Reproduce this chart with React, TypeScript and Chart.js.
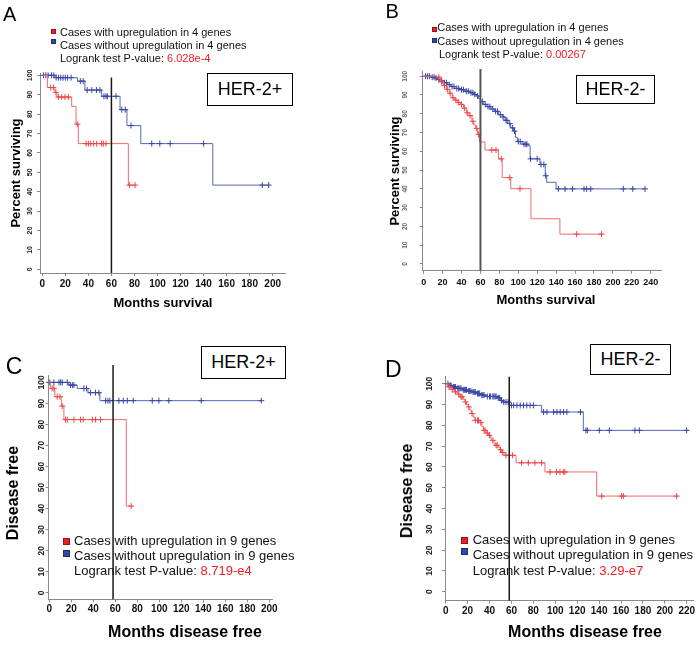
import React, { useEffect, useRef } from "react";
import { Chart, registerables } from "chart.js";

Chart.register(...registerables);

type Pt = [number, number];

// ---------------- DATA ----------------
const yTicks = [0, 10, 20, 30, 40, 50, 60, 70, 80, 90, 100];

// Panel A (HER-2+, overall survival)
const A_xTicks = [0, 20, 40, 60, 80, 100, 120, 140, 160, 180, 200];
const A_withSteps: Pt[] = [[0, 100], [4.4, 93.7], [11, 91.2], [12.6, 88.8], [25.5, 84], [29.3, 74.8], [31.3, 64.8], [74.7, 43.4], [81, 43.4]];
const A_withCensor = [7.3, 9.6, 11.8, 14, 16.8, 19.7, 22.6, 30.4, 38, 40, 42, 44.3, 47.2, 51.5, 53, 55.3, 75.6, 80.5];
const A_withoutSteps: Pt[] = [[0, 100], [11, 98.8], [30.5, 97], [37, 92.4], [51.5, 89.2], [67.5, 82.3], [73.5, 74.1], [85.5, 64.8], [148, 43.4], [197, 43.4]];
const A_withoutCensor = [1, 3, 5, 8, 10, 12, 14, 16, 18, 20, 22, 25, 33, 35.5, 39, 43, 47, 50, 53.5, 55.3, 56.5, 64, 69, 72, 77, 95, 102, 111, 140, 191, 196.5];
const A_cutoff = 60;

// Panel B (HER-2-, overall survival)
const B_xTicks = [0, 20, 40, 60, 80, 100, 120, 140, 160, 180, 200, 220, 240];
const B_withSteps: Pt[] = [[0, 100], [14, 99.5], [18, 97], [21, 95], [24, 93], [27, 90.9], [30, 88.5], [33, 87.3], [36, 86], [39, 85], [42, 83], [45, 80.5], [48, 79], [51, 76], [53, 74], [55, 72.2], [57, 69], [59, 65], [64.8, 60.7], [79, 56], [83, 46], [92, 40.1], [113.4, 24.1], [144, 15.9], [189, 15.9]];
const B_withCensor = [16, 19, 22, 25, 28, 31, 34, 37, 40, 43, 46, 49, 52, 56, 58, 72, 76.4, 82, 91, 101.8, 161.7, 188];
const B_withoutSteps: Pt[] = [[0, 100], [8, 99.5], [12, 99], [15, 98.2], [18, 97.5], [21, 96.5], [25, 95.5], [29, 94.5], [33, 93.5], [38, 92.8], [43, 92], [48, 91.2], [53, 90.3], [56, 89.5], [58, 88], [60, 86.5], [63, 85], [67, 83.8], [71, 82.5], [75, 81.3], [79, 79.5], [83, 78.3], [86, 76.5], [89, 74.8], [92, 72.5], [95, 70.8], [97, 67.5], [99, 65.2], [104, 63.8], [110, 63], [112.5, 56], [123, 53], [128.5, 47], [130, 43.5], [140, 40], [234, 40]];
const B_withoutCensor = [2, 4, 6, 9, 11, 13, 16, 19, 22, 24, 27, 30, 32, 35, 37, 40, 42, 45, 47, 50, 52, 54, 57, 62, 65, 68, 70, 73, 76, 78, 81, 84, 87, 88, 91, 94, 96, 100, 102, 106, 108, 109, 113, 120, 124, 127, 129, 142.4, 149.4, 157.2, 169.5, 172.3, 176.6, 211, 221, 234];
const B_cutoff = 60;

// Panel C (HER-2+, disease free)
const C_xTicks = [0, 20, 40, 60, 80, 100, 120, 140, 160, 180, 200];
const C_withSteps: Pt[] = [[0, 100], [1.2, 97.1], [5.1, 93.2], [10.9, 88.7], [13.3, 82.3], [70, 41.2], [75, 41.2]];
const C_withCensor = [2.7, 4.2, 7.2, 9.7, 11.8, 14.8, 16.4, 22.4, 28.5, 30.9, 39.1, 42.1, 46.6, 74.5];
const C_withoutSteps: Pt[] = [[0, 100], [17.8, 98.7], [25.4, 97.1], [35.2, 95.1], [46, 91.3], [193, 91.3]];
const C_withoutCensor = [0.5, 4.2, 8.8, 10.3, 11.8, 16.4, 19.3, 21, 22.4, 31.5, 33.9, 37.5, 42, 45.1, 51.2, 53.3, 55.1, 63.3, 67.3, 70.9, 76.3, 93.6, 99.6, 108.7, 138.1, 192.7];
const C_cutoff = 58;

// Panel D (HER-2-, disease free)
const D_xTicks = [0, 20, 40, 60, 80, 100, 120, 140, 160, 180, 200, 220];
const D_withSteps: Pt[] = [[0, 100], [2, 98.5], [5, 97.2], [8, 96.1], [11, 95], [13, 93.7], [16, 92.5], [17.6, 91.3], [19, 90], [20.7, 88.9], [22, 87.3], [23.7, 85.7], [25, 84], [26.8, 82.4], [31.3, 81.3], [33, 79.5], [34.4, 77.6], [37, 76.3], [39, 75.2], [41, 73.8], [42, 72.8], [44, 71.5], [45.1, 70.4], [48, 69.3], [49.6, 68.3], [51, 67], [53.3, 65.6], [64.2, 62], [90.6, 57.6], [137.8, 46], [212, 46]];
const D_withCensor = [3, 6, 9, 12, 14, 15, 18, 21, 24, 27, 29, 30, 32, 35, 36, 38, 40, 43, 46, 47, 50, 52, 55, 58, 61, 69.3, 75.4, 81.4, 87.6, 95.2, 101.2, 104.3, 107.3, 108.8, 142.4, 160.6, 162.1, 210.8];
const D_withoutSteps: Pt[] = [[0, 100], [3, 99.2], [6, 98.4], [10, 97.8], [15, 97.1], [20, 96.5], [24.4, 96], [28, 95.3], [32, 94.6], [36.6, 93.9], [47, 93.2], [50, 92], [52, 91.2], [58.4, 89.6], [87.6, 86.4], [125.6, 77.6], [220, 77.6]];
const D_withoutCensor = [2, 4, 5, 7, 8, 9, 11, 12, 13, 14, 16, 17, 18, 19, 21, 22, 23, 25, 26, 27, 29, 30, 31, 33, 34, 35, 38, 40, 41, 43, 44, 45, 46, 48, 49, 51, 53, 55, 57, 60, 62, 65, 68, 71, 74, 77, 80, 89.3, 92.4, 98.5, 101.5, 104.5, 107.6, 110.6, 123, 128, 129.3, 140.2, 149.3, 172.7, 176.7, 219.9];
const D_cutoff = 58;

// ---------------- STYLE ----------------
const FONT = "'Liberation Sans', Arial, Helvetica, sans-serif";
const RED_LINE = "#f06a6a";
const RED_MARK = "#ec4646";
const BLUE_LINE = "#5a66b5";
const BLUE_MARK = "#3845a5";
const AXIS = "#8a8a8a";
const LEG_RED = "#e8202a";
const LEG_BLUE = "#3048a8";
const P_RED = "#ee1c24";

type PanelDef = {
  canvas: [number, number, number, number];
  area: { l: number; t: number; r: number; b: number };
  xMin: number; xMax: number; yMin: number; yMax: number;
  xTicks: number[];
  withSteps: Pt[]; withCensor: number[];
  withoutSteps: Pt[]; withoutCensor: number[];
  cutoff: number; cutoffTop: number; cutoffColor: string; cutoffWidth: number;
  yLabelOffset: number; yLabelSize: number; yLabelColor: string;
  xLabelOffset: number; xLabelSize: number;
  markR: number;
};

const panels: PanelDef[] = [
  {
    canvas: [0, 0, 350, 323], area: { l: 40, t: 73, r: 285, b: 273 },
    xMin: -2, xMax: 210.7, yMin: -1.9, yMax: 101.2, xTicks: A_xTicks,
    withSteps: A_withSteps, withCensor: A_withCensor, withoutSteps: A_withoutSteps, withoutCensor: A_withoutCensor,
    cutoff: A_cutoff, cutoffTop: 98.9, cutoffColor: "#1a1a1a", cutoffWidth: 1.5,
    yLabelOffset: 10, yLabelSize: 7, yLabelColor: "#222", xLabelOffset: 11, xLabelSize: 10, markR: 3,
  },
  {
    canvas: [350, 0, 350, 323], area: { l: 422.7, t: 71.7, r: 661.7, b: 270.7 },
    xMin: -1.06, xMax: 251.6, yMin: -3.57, yMax: 102.4, xTicks: B_xTicks,
    withSteps: B_withSteps, withCensor: B_withCensor, withoutSteps: B_withoutSteps, withoutCensor: B_withoutCensor,
    cutoff: B_cutoff, cutoffTop: 103.8, cutoffColor: "#555", cutoffWidth: 2,
    yLabelOffset: 17.5, yLabelSize: 6.5, yLabelColor: "#666", xLabelOffset: 12, xLabelSize: 9, markR: 3,
  },
  {
    canvas: [0, 323, 350, 323], area: { l: 48.5, t: 375, r: 272.7, b: 599.3 },
    xMin: -0.7, xMax: 203.1, yMin: -3.1, yMax: 103.5, xTicks: C_xTicks,
    withSteps: C_withSteps, withCensor: C_withCensor, withoutSteps: C_withoutSteps, withoutCensor: C_withoutCensor,
    cutoff: C_cutoff, cutoffTop: 108.2, cutoffColor: "#1a1a1a", cutoffWidth: 1.5,
    yLabelOffset: 7, yLabelSize: 8.5, yLabelColor: "#222", xLabelOffset: 9.7, xLabelSize: 10, markR: 3,
  },
  {
    canvas: [350, 323, 350, 323], area: { l: 445, t: 376.7, r: 693, b: 600.7 },
    xMin: -0.64, xMax: 225.7, yMin: -4.3, yMax: 103.4, xTicks: D_xTicks,
    withSteps: D_withSteps, withCensor: D_withCensor, withoutSteps: D_withoutSteps, withoutCensor: D_withoutCensor,
    cutoff: D_cutoff, cutoffTop: 103.4, cutoffColor: "#1a1a1a", cutoffWidth: 1.5,
    yLabelOffset: 15, yLabelSize: 8.5, yLabelColor: "#222", xLabelOffset: 10.3, xLabelSize: 10, markR: 3,
  },
];

function survivalAt(steps: Pt[], t: number): number {
  let v = steps[0][1];
  for (const [st, sv] of steps) {
    if (st <= t) v = sv;
    else break;
  }
  return v;
}

function makeLabelPlugin(p: PanelDef) {
  return {
    id: "kmTickLabels",
    afterDraw(chart: any) {
      const ctx = chart.ctx as CanvasRenderingContext2D;
      const xs = chart.scales.x;
      const ys = chart.scales.y;
      const ca = chart.chartArea;
      ctx.save();
      ctx.textAlign = "center";
      ctx.textBaseline = "middle";
      ctx.fillStyle = "#111";
      ctx.font = `bold ${p.xLabelSize}px ${FONT}`;
      for (const v of p.xTicks) {
        ctx.fillText(String(v), xs.getPixelForValue(v), ca.bottom + p.xLabelOffset);
      }
      ctx.fillStyle = p.yLabelColor;
      ctx.font = `bold ${p.yLabelSize}px ${FONT}`;
      for (const v of yTicks) {
        ctx.save();
        ctx.translate(ca.left - p.yLabelOffset, ys.getPixelForValue(v));
        ctx.rotate(-Math.PI / 2);
        ctx.fillText(String(v), 0, 0);
        ctx.restore();
      }
      ctx.restore();
    },
  };
}

function zeroFit(s: any, horizontal: boolean) {
  if (horizontal) s.height = 0;
  else s.width = 0;
  s.paddingLeft = 0;
  s.paddingRight = 0;
  s.paddingTop = 0;
  s.paddingBottom = 0;
}

function buildConfig(p: PanelDef): any {
  const [cl, ct, cw, ch] = p.canvas;
  const toXY = (arr: Pt[]) => arr.map(([x, y]) => ({ x, y }));
  const marks = (steps: Pt[], times: number[]) => times.map((t) => ({ x: t, y: survivalAt(steps, t) }));
  return {
    type: "line",
    data: {
      datasets: [
        {
          data: [{ x: p.cutoff, y: p.cutoffTop }, { x: p.cutoff, y: p.yMin }],
          borderColor: p.cutoffColor, borderWidth: p.cutoffWidth, pointRadius: 0, clip: false,
        },
        {
          data: marks(p.withSteps, p.withCensor), showLine: false, pointStyle: "cross",
          pointRadius: p.markR, pointBorderColor: RED_MARK, pointBorderWidth: 1, pointBackgroundColor: RED_MARK, clip: false,
        },
        {
          data: toXY(p.withSteps), stepped: true, borderColor: RED_LINE, borderWidth: 1, pointRadius: 0, clip: false,
        },
        {
          data: marks(p.withoutSteps, p.withoutCensor), showLine: false, pointStyle: "cross",
          pointRadius: p.markR, pointBorderColor: BLUE_MARK, pointBorderWidth: 1, pointBackgroundColor: BLUE_MARK, clip: false,
        },
        {
          data: toXY(p.withoutSteps), stepped: true, borderColor: BLUE_LINE, borderWidth: 1, pointRadius: 0, clip: false,
        },
      ],
    },
    options: {
      animation: false,
      responsive: false,
      maintainAspectRatio: false,
      events: [],
      layout: {
        padding: {
          left: p.area.l - cl,
          top: p.area.t - ct,
          right: cl + cw - p.area.r,
          bottom: ct + ch - p.area.b,
        },
      },
      plugins: { legend: { display: false }, tooltip: { enabled: false }, title: { display: false } },
      scales: {
        x: {
          type: "linear", min: p.xMin, max: p.xMax,
          afterBuildTicks: (s: any) => { s.ticks = p.xTicks.map((v) => ({ value: v })); },
          afterFit: (s: any) => zeroFit(s, true),
          grid: { drawOnChartArea: false, drawTicks: true, tickLength: 3, color: AXIS, tickColor: AXIS, lineWidth: 1 },
          border: { display: true, color: AXIS, width: 1 },
          ticks: { display: false },
        },
        y: {
          type: "linear", min: p.yMin, max: p.yMax,
          afterBuildTicks: (s: any) => { s.ticks = yTicks.map((v) => ({ value: v })); },
          afterFit: (s: any) => zeroFit(s, false),
          grid: { drawOnChartArea: false, drawTicks: true, tickLength: 3, color: AXIS, tickColor: AXIS, lineWidth: 1 },
          border: { display: true, color: AXIS, width: 1 },
          ticks: { display: false },
        },
      },
    },
    plugins: [makeLabelPlugin(p)],
  };
}

function KMPanel({ def }: { def: PanelDef }) {
  const ref = useRef<HTMLCanvasElement>(null);
  useEffect(() => {
    const chart = new Chart(ref.current as HTMLCanvasElement, buildConfig(def));
    return () => chart.destroy();
  }, [def]);
  const [l, t, w, h] = def.canvas;
  return <canvas ref={ref} width={w} height={h} style={{ position: "absolute", left: l, top: t, width: w, height: h }} />;
}

// ---------------- TEXT OVERLAYS ----------------
function Txt(props: { left: number; baseline: number; size: number; bold?: boolean; children: React.ReactNode }) {
  return (
    <div
      style={{
        position: "absolute", left: props.left, top: props.baseline - 0.8465 * props.size,
        fontSize: props.size, lineHeight: `${props.size}px`, fontWeight: props.bold ? 700 : 400,
        whiteSpace: "nowrap", color: "#111",
      }}
    >
      {props.children}
    </div>
  );
}

function Sq(props: { left: number; top: number; size: number; color: string }) {
  return (
    <div
      style={{
        position: "absolute", left: props.left, top: props.top, width: props.size, height: props.size,
        background: props.color, boxSizing: "border-box", border: "1px solid rgba(0,0,0,0.35)",
      }}
    />
  );
}

function Letter(props: { left: number; top: number; size: number; text: string }) {
  return (
    <div style={{ position: "absolute", left: props.left, top: props.top, fontSize: props.size, lineHeight: 1, color: "#000" }}>
      {props.text}
    </div>
  );
}

function HerBox(props: { left: number; top: number; w: number; h: number; text: string }) {
  return (
    <div
      style={{
        position: "absolute", left: props.left, top: props.top, width: props.w, height: props.h,
        boxSizing: "border-box", border: "1.5px solid #000", background: "#fff",
        display: "flex", alignItems: "center", justifyContent: "center", fontSize: 18, color: "#000",
      }}
    >
      {props.text}
    </div>
  );
}

function VTitle(props: { cx: number; cy: number; size: number; text: string }) {
  return (
    <div
      style={{
        position: "absolute", left: props.cx, top: props.cy, transform: "translate(-50%, -50%) rotate(-90deg)",
        whiteSpace: "nowrap", fontSize: props.size, lineHeight: 1, fontWeight: 700, color: "#000",
      }}
    >
      {props.text}
    </div>
  );
}

function HTitle(props: { cx: number; cy: number; size: number; text: string }) {
  return (
    <div
      style={{
        position: "absolute", left: props.cx, top: props.cy, transform: "translate(-50%, -50%)",
        whiteSpace: "nowrap", fontSize: props.size, lineHeight: 1, fontWeight: 700, color: "#000",
      }}
    >
      {props.text}
    </div>
  );
}

function Legend(props: {
  textLeft: number; pLeft: number; baselines: number[]; size: number;
  sqLeft: number; sqTops: number[]; sqSize: number; genes: number; pval: string;
}) {
  const { textLeft, pLeft, baselines, size, sqLeft, sqTops, sqSize, genes, pval } = props;
  return (
    <>
      <Sq left={sqLeft} top={sqTops[0]} size={sqSize} color={LEG_RED} />
      <Sq left={sqLeft} top={sqTops[1]} size={sqSize} color={LEG_BLUE} />
      <Txt left={textLeft} baseline={baselines[0]} size={size}>{`Cases with upregulation in ${genes} genes`}</Txt>
      <Txt left={textLeft} baseline={baselines[1]} size={size}>{`Cases without upregulation in ${genes} genes`}</Txt>
      <Txt left={pLeft} baseline={baselines[2]} size={size}>
        {"Logrank test P-value: "}
        <span style={{ color: P_RED }}>{pval}</span>
      </Txt>
    </>
  );
}

export default function App() {
  return (
    <div
      style={{
        position: "absolute", left: 0, top: 0, width: 700, height: 646, background: "#fff",
        overflow: "hidden", fontFamily: FONT,
      }}
    >
      {panels.map((p, i) => (
        <KMPanel key={i} def={p} />
      ))}

      {/* Panel A */}
      <Letter left={3} top={4.1} size={20} text="A" />
      <Legend textLeft={60} pLeft={60} baselines={[36.7, 49.3, 62]} size={11} sqLeft={50.7} sqTops={[29.3, 39]} sqSize={5} genes={4} pval="6.028e-4" />
      <HerBox left={207} top={73} w={86} h={33} text="HER-2+" />
      <VTitle cx={15} cy={173} size={13} text="Percent surviving" />
      <HTitle cx={163} cy={301.5} size={13} text="Months survival" />

      {/* Panel B */}
      <Letter left={385.5} top={1.4} size={20} text="B" />
      <Legend textLeft={437.3} pLeft={439} baselines={[31.7, 45, 58]} size={11} sqLeft={432} sqTops={[26.5, 37.5]} sqSize={5} genes={4} pval="0.00267" />
      <HerBox left={576} top={75} w={79} h={29} text="HER-2-" />
      <VTitle cx={394} cy={171} size={13} text="Percent surviving" />
      <HTitle cx={546} cy={299} size={13} text="Months survival" />

      {/* Panel C */}
      <Letter left={5.8} top={355.3} size={23} text="C" />
      <HerBox left={201} top={346} w={85} h={33} text="HER-2+" />
      <Legend textLeft={74} pLeft={74} baselines={[545, 560, 575]} size={13} sqLeft={62.7} sqTops={[538.3, 550]} sqSize={7} genes={9} pval="8.719-e4" />
      <VTitle cx={12.5} cy={492.5} size={16} text="Disease free" />
      <HTitle cx={185} cy={632} size={16} text="Months disease free" />

      {/* Panel D */}
      <Letter left={385} top={357.7} size={23} text="D" />
      <HerBox left={590} top={344} w={81} h={31} text="HER-2-" />
      <Legend textLeft={472.7} pLeft={472.7} baselines={[544, 559.5, 575]} size={13} sqLeft={460.7} sqTops={[537.3, 548.3]} sqSize={7} genes={9} pval="3.29-e7" />
      <VTitle cx={406.7} cy={491} size={16} text="Disease free" />
      <HTitle cx={585} cy={632} size={16} text="Months disease free" />
    </div>
  );
}
